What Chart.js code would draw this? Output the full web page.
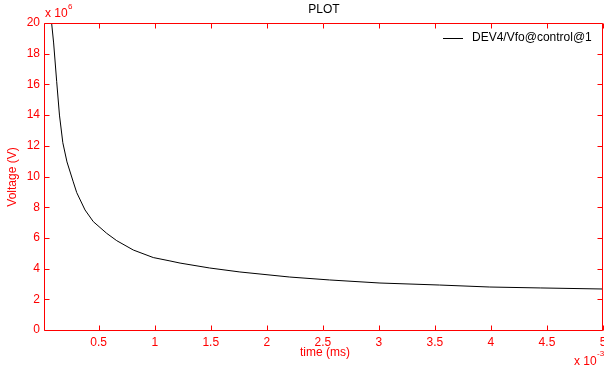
<!DOCTYPE html>
<html>
<head>
<meta charset="utf-8">
<script src="https://cdn.jsdelivr.net/npm/chart.js@4"></script>
<style>
  html, body { margin: 0; padding: 0; background: #fff; }
  #wrap { width: 604px; height: 370px; }
</style>
</head>
<body>
<div id="wrap"><canvas id="myChart"></canvas></div>
<script>
// time in units of 1e-3 ms, voltage in units of 1e6 V
const timeMs = [0.08, 0.098, 0.125, 0.15, 0.18, 0.217, 0.273, 0.304, 0.378, 0.452, 0.571, 0.661, 0.809, 0.987, 1.136, 1.226, 1.49, 1.76, 2.205, 2.56, 3.01, 3.54, 3.99, 4.44, 5.0];
const voltage = [20.0, 18.7, 16.2, 14.0, 12.2, 10.95, 9.65, 8.95, 7.82, 7.06, 6.30, 5.82, 5.21, 4.72, 4.50, 4.36, 4.04, 3.78, 3.45, 3.26, 3.06, 2.93, 2.80, 2.74, 2.67];
const xTicks = [0.5, 1, 1.5, 2, 2.5, 3, 3.5, 4, 4.5, 5];
const yTicks = [0, 2, 4, 6, 8, 10, 12, 14, 16, 18, 20];
const seriesName = "DEV4/Vfo@control@1";

const FONT = '"Liberation Sans", Arial, sans-serif';
const RED = '#ff0000';

// red box with inward ticks on all four sides, titles, legend
const framePlugin = {
  id: 'frame',
  afterDraw(chart) {
    const ctx = chart.ctx;
    const { left, right, top, bottom } = chart.chartArea;
    const x = chart.scales.x, y = chart.scales.y;
    const L = Math.round(left) + 0.5, R = Math.round(right) - 0.5;
    const T = Math.round(top) + 0.5, B = Math.round(bottom) + 0.5;
    ctx.save();
    ctx.strokeStyle = RED;
    ctx.lineWidth = 1;
    ctx.beginPath();
    ctx.rect(L, T, R - L, B - T);
    xTicks.forEach(v => {
      const px = Math.round(x.getPixelForValue(v)) + 0.5;
      ctx.moveTo(px, B); ctx.lineTo(px, B - 5);
      ctx.moveTo(px, T); ctx.lineTo(px, T + 5);
    });
    yTicks.forEach(v => {
      const py = Math.round(y.getPixelForValue(v)) + 0.5;
      ctx.moveTo(L, py); ctx.lineTo(L + 5, py);
      ctx.moveTo(R, py); ctx.lineTo(R - 5, py);
    });
    ctx.stroke();

    // title
    ctx.fillStyle = '#000';
    ctx.font = '12px ' + FONT;
    ctx.textAlign = 'center';
    ctx.textBaseline = 'middle';
    ctx.fillText('PLOT', 324, 10);

    // axis titles
    ctx.fillStyle = RED;
    ctx.fillText('time (ms)', 325, 353);
    ctx.save();
    ctx.translate(13, 177);
    ctx.rotate(-Math.PI / 2);
    ctx.fillText('Voltage (V)', 0, 0);
    ctx.restore();

    // exponent labels
    ctx.textAlign = 'left';
    ctx.fillText('x 10', 45, 14);
    ctx.font = '8px ' + FONT;
    ctx.fillText('6', 68, 7);
    ctx.font = '12px ' + FONT;
    ctx.fillText('x 10', 574, 362);
    ctx.font = '8px ' + FONT;
    ctx.fillText('-3', 597, 354);

    // legend
    const ds = chart.data.datasets[0];
    ctx.strokeStyle = ds.borderColor;
    ctx.beginPath();
    ctx.moveTo(443, 38.5); ctx.lineTo(463, 38.5);
    ctx.stroke();
    ctx.fillStyle = '#000';
    ctx.font = '12px ' + FONT;
    ctx.fillText(ds.label, 472, 38);
    ctx.restore();
  }
};

new Chart('myChart', {
  type: 'scatter',
  data: {
    datasets: [{
      label: seriesName,
      data: timeMs.map((t, i) => ({ x: t, y: voltage[i] })),
      showLine: true,
      borderColor: '#000',
      borderWidth: 1,
      pointRadius: 0,
      tension: 0
    }]
  },
  options: {
    responsive: true,
    maintainAspectRatio: false,
    animation: false,
    layout: { padding: { top: 23, right: 1, left: 0, bottom: 0 } },
    plugins: {
      legend: { display: false },
      title: { display: false },
      tooltip: { enabled: false }
    },
    scales: {
      x: {
        type: 'linear',
        min: 0.012,
        max: 5,
        afterBuildTicks: s => { s.ticks = xTicks.map(v => ({ value: v })); },
        afterFit: s => { s.height = 40; s.paddingLeft = 0; s.paddingRight = 0; },
        grid: { display: false, drawTicks: false },
        border: { display: false },
        ticks: {
          color: RED, font: { family: FONT, size: 12 }, padding: 5,
          maxRotation: 0, autoSkip: false, callback: v => String(v)
        }
      },
      y: {
        min: 0,
        max: 20,
        afterBuildTicks: s => { s.ticks = yTicks.map(v => ({ value: v })); },
        afterFit: s => { s.width = 44; s.paddingTop = 0; s.paddingBottom = 0; },
        grid: { display: false, drawTicks: false },
        border: { display: false },
        ticks: { color: RED, font: { family: FONT, size: 12 }, padding: 4, autoSkip: false }
      }
    }
  },
  plugins: [framePlugin]
});
</script>
</body>
</html>
